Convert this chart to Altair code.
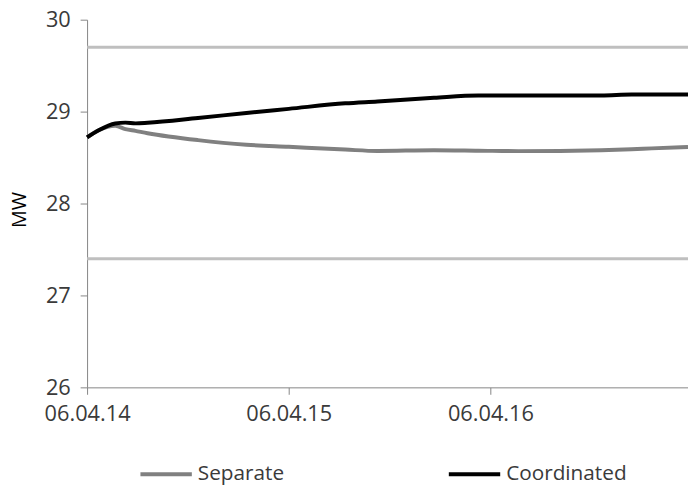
import altair as alt
import pandas as pd

# x position in tick-interval units (0 = 06.04.14, 1 = 06.04.15, 2 = 06.04.16)
x_pos = [0, 0.06, 0.14, 0.19, 0.24, 0.30, 0.55, 0.79, 1.0, 1.28, 1.44, 1.72,
         1.94, 2.14, 2.55, 2.70, 2.80, 2.98]
coordinated = [28.72, 28.80, 28.87, 28.88, 28.872, 28.878, 28.93, 28.985, 29.03,
               29.09, 29.11, 29.15, 29.175, 29.175, 29.175, 29.185, 29.185, 29.185]
separate = [28.72, 28.80, 28.845, 28.81, 28.79, 28.765, 28.69, 28.64, 28.617,
            28.587, 28.572, 28.58, 28.575, 28.57, 28.58, 28.59, 28.60, 28.615]
series_names = ["Separate", "Coordinated"]
series_colors = ["#808080", "#000000"]
limits = [29.7, 27.4]
tick_labels = ["06.04.14", "06.04.15", "06.04.16"]
y_ticks = [26, 27, 28, 29, 30]

rows = []
for i, x in enumerate(x_pos):
    rows.append({"x": x, "MW": separate[i], "series": "Separate"})
    rows.append({"x": x, "MW": coordinated[i], "series": "Coordinated"})
df = pd.DataFrame(rows)
lim_df = pd.DataFrame({"MW": limits})

FONT = "Open Sans"
label_expr = "[" + ",".join("'%s'" % t for t in tick_labels) + "][round(datum.value)]"

xscale = alt.Scale(domain=[0, 2.98], nice=False, zero=False)
yscale = alt.Scale(domain=[26, 30], nice=False, zero=False)

rules = alt.Chart(lim_df).mark_rule(color="#BFBFBF", strokeWidth=3).encode(
    y=alt.Y("MW:Q", scale=yscale)
)

lines = alt.Chart(df).mark_line(strokeWidth=4, interpolate="monotone").encode(
    x=alt.X("x:Q", scale=xscale,
            axis=alt.Axis(values=[0, 1, 2], labelExpr=label_expr, title=None,
                          grid=False, tickSize=7, labelPadding=10,
                          labelFontSize=22, labelFont=FONT, labelColor="#3a3a3a",
                          domainColor="#868686", tickColor="#868686",
                          labelFlush=False, labelOverlap=False)),
    y=alt.Y("MW:Q", scale=yscale,
            axis=alt.Axis(values=y_ticks, format="d", title="MW", grid=False,
                          tickSize=7, labelPadding=10, labelFontSize=22,
                          labelFont=FONT, labelColor="#3a3a3a",
                          domainColor="#868686", tickColor="#868686",
                          titleFont=FONT, titleFontSize=20,
                          titleFontWeight="normal", titleColor="#000000",
                          titleX=-68, titleY=192, titleBaseline="middle",
                          titleAlign="center")),
    color=alt.Color("series:N",
                    scale=alt.Scale(domain=series_names, range=series_colors),
                    sort=series_names,
                    legend=alt.Legend(title=None, orient="none", legendX=52,
                                      legendY=432, direction="horizontal",
                                      columns=2, columnPadding=158,
                                      symbolType="stroke", symbolSize=2704,
                                      symbolStrokeWidth=4, labelOffset=4,
                                      labelFont=FONT, labelFontSize=21,
                                      labelColor="#3a3a3a")),
    detail="series:N",
)

chart = (rules + lines).properties(
    width=608, height=372,
    padding={"left": 80, "top": 9, "right": 0, "bottom": 99},
    autosize=alt.AutoSizeParams(type="none"),
).configure_view(stroke=None)

chart.save("out.html", embed_options={"renderer": "svg", "actions": False})
